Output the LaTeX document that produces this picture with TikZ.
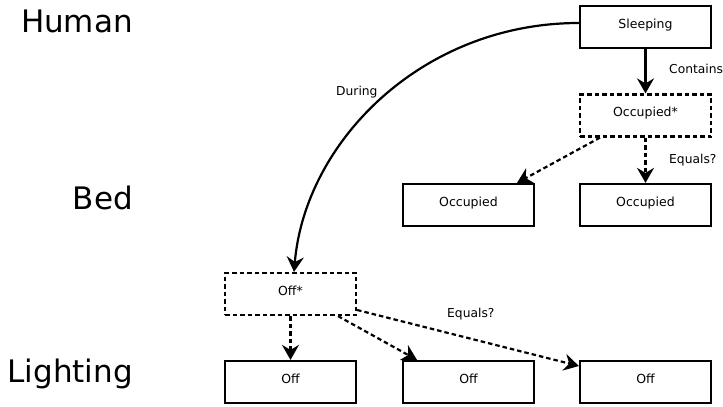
\documentclass[tikz,border=0pt]{standalone}
\usepackage{fontspec}
\setmainfont{DejaVu Sans}
\usetikzlibrary{arrows.meta}
\begin{document}
\begin{tikzpicture}[x=1pt,y=-1pt,
  state/.style={draw,line width=2.2pt,rectangle,minimum width=131pt,minimum height=42pt,
    inner sep=0pt,text height=9.5pt,text depth=7.5pt,font=\fontsize{12.5}{14}\selectfont},
  wild/.style={state,dash pattern=on 4.5pt off 3pt},
  lane/.style={anchor=base east,inner sep=0pt,font=\fontsize{31}{36}\selectfont},
  tag/.style={anchor=base west,inner sep=0pt,font=\fontsize{12.3}{14}\selectfont},
  link/.style={line width=2.2pt,-{Stealth[length=15pt,width=17pt,inset=5pt]}},
  maybe/.style={link,dash pattern=on 4.5pt off 3pt}]
\useasboundingbox (0,0) rectangle (723,407);

% swimlane titles
\node[lane] (human) at (133,32) {Human};
\node[lane] (bed) at (133,209) {Bed};
\node[lane] (lighting) at (133,382) {Lighting};

% states
\node[state] (sleep) at (645.5,27) {Sleeping};
\node[wild] (occs) at (645.5,115.5) {Occupied*};
\node[state] (occL) at (468.5,205) {Occupied};
\node[state] (occR) at (645.5,205) {Occupied};
\node[wild] (offs) at (290.5,294) {Off*};
\node[state] (offL) at (290.5,382) {Off};
\node[state] (offM) at (468.5,382) {Off};
\node[state] (offR) at (645.5,382) {Off};

% transitions
\draw[link] (sleep.south) -- (occs.north);
\draw[maybe] (occs.south) -- (occR.north);
\draw[maybe] ([xshift=-45.5pt]occs.south) -- ([xshift=48.5pt]occL.north);
\draw[link] ([yshift=4pt]sleep.west) .. controls +(-157,0) and +(11,-130) .. ([xshift=3.5pt]offs.north);
\draw[maybe] (offs.south) -- (offL.north);
\draw[maybe] ([xshift=47.5pt]offs.south) -- ([xshift=-51.5pt]offM.north);
\draw[maybe] ([yshift=-16pt]offs.east) -- ([yshift=16pt]offR.west);

% transition labels
\node[tag] (contains) at (669,73) {Contains};
\node[tag] (eq1) at (669,163) {Equals?};
\node[tag] (during) at (336,95) {During};
\node[tag] (eq2) at (447,317) {Equals?};
\end{tikzpicture}
\end{document}
